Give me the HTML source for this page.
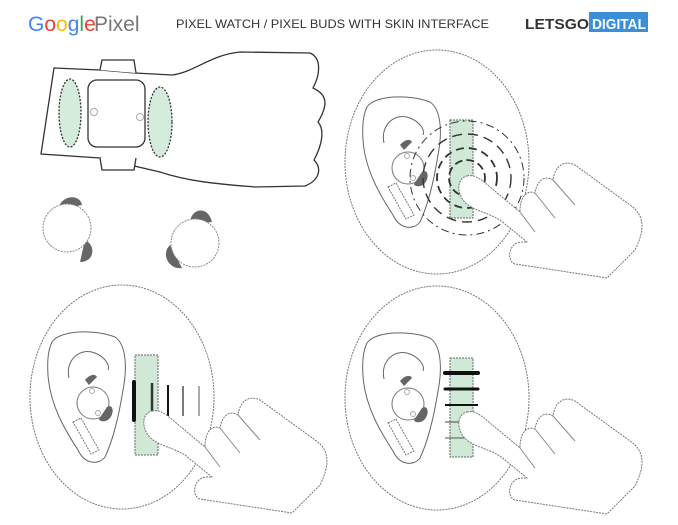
<!DOCTYPE html>
<html><head><meta charset="utf-8"><style>
html,body{margin:0;padding:0;background:#fff;width:678px;height:525px;overflow:hidden}
svg{display:block}
</style></head><body>
<svg width="678" height="525" viewBox="0 0 678 525" xmlns="http://www.w3.org/2000/svg">
<defs>
<g id="ear">
  <ellipse cx="437" cy="162" rx="92" ry="112" fill="none" stroke="#777" stroke-width="1" stroke-dasharray="2 1"/>
  <path d="M367,107 C375,95 410,94 430,102 C442,110 442,135 438,155 C434,180 428,205 420,222 C414,230 400,230 393,215 C380,195 365,170 363,140 C362,125 363,115 367,107 Z" fill="none" stroke="#666" stroke-width="1"/>
  <path d="M384,143 C380,125 395,112 410,118 C420,122 425,130 423,135" fill="none" stroke="#666" stroke-width="1"/>
  <path d="M400,145 C404,140 410,138 412,142 L404,150 Z" fill="#666"/>
  <circle cx="408" cy="168" r="16" fill="#fff" stroke="#777" stroke-width="1"/>
  <path d="M422,172 C428,168 430,178 424,184 C420,188 414,186 414,184 Z" fill="#666"/>
  <circle cx="407" cy="156" r="2.5" fill="none" stroke="#aaa"/>
  <circle cx="413" cy="178" r="2.5" fill="none" stroke="#aaa"/>
  <path d="M388,187 L396,183 L414,215 L406,219 Z" fill="#fff" stroke="#777" stroke-dasharray="2 1"/>
</g>
<g id="hand">
  <path d="M467,176 C475,174 482,180 490,187 L520,212 C520,195 528,190 535,193 C537,180 545,175 553,180 C555,165 565,160 575,165 L630,205 C645,215 645,230 635,250 L607,278 L515,264 C508,262 508,250 514,245 C520,240 526,243 527,242 L500,220 C487,212 470,210 463,200 C456,190 458,178 467,176 Z" fill="#fff" stroke="#777" stroke-width="1" stroke-dasharray="2 1"/>
  <path d="M520,212 L535,232 M535,193 L555,218 M553,180 L575,205" fill="none" stroke="#888" stroke-width="1"/>
</g>
</defs>

<!-- header -->
<text x="28" y="31" font-family="Liberation Sans, sans-serif" font-size="21"><tspan fill="#4285f4">G</tspan><tspan fill="#ea4335">o</tspan><tspan fill="#fbbc05">o</tspan><tspan fill="#4285f4">g</tspan><tspan fill="#34a853">l</tspan><tspan fill="#ea4335">e</tspan></text>
<text x="94" y="31" font-family="Liberation Sans, sans-serif" font-size="21" fill="#777">Pixel</text>
<text x="176" y="28" font-family="Liberation Sans, sans-serif" font-size="12" fill="#333" textLength="313" lengthAdjust="spacingAndGlyphs">PIXEL WATCH / PIXEL BUDS WITH SKIN INTERFACE</text>
<text x="525" y="29" font-family="Liberation Sans, sans-serif" font-size="15" font-weight="bold" fill="#333" textLength="64" lengthAdjust="spacingAndGlyphs">LETSGO</text>
<rect x="589" y="12" width="59" height="20" fill="#3b8fd6"/>
<text x="592" y="29" font-family="Liberation Sans, sans-serif" font-size="15" font-weight="bold" fill="#fff" textLength="54" lengthAdjust="spacingAndGlyphs">DIGITAL</text>

<!-- arm with watch -->
<path d="M54,68 L100,70 L135,73 L172,75 C195,72 210,55 240,52 L310,53 C322,58 320,75 313,88 C328,95 328,105 318,122 C325,130 322,145 314,160 C322,168 320,180 305,186 L255,187 C220,184 190,182 160,172 L100,158 L41,154 Z" fill="#fff" stroke="#333" stroke-width="1.3"/>
<path d="M100,70 L102,60 L134,60 L136,73 M100,158 L102,170 L134,170 L136,158" fill="#fff" stroke="#333" stroke-width="1.3"/>
<rect x="88" y="80" width="57" height="67" rx="9" fill="#fff" stroke="#333" stroke-width="1.3"/>
<circle cx="94" cy="112" r="3.5" fill="#fff" stroke="#aaa"/>
<circle cx="140" cy="117" r="3.5" fill="#fff" stroke="#aaa"/>
<ellipse cx="70" cy="113" rx="11" ry="34" fill="#d4ecdb" stroke="#333" stroke-width="1.3" stroke-dasharray="2 1.5"/>
<ellipse cx="160" cy="122" rx="12" ry="35" fill="#d4ecdb" stroke="#333" stroke-width="1.3" stroke-dasharray="2 1.5"/>

<!-- buds -->
<path d="M58,210 C60,195 80,193 82,205 Z" fill="#666"/>
<path d="M85,240 C96,245 95,262 80,262 Z" fill="#666"/>
<circle cx="67" cy="228" r="24" fill="#fff" stroke="#888" stroke-dasharray="2 1"/>
<path d="M190,224 C190,208 208,205 212,222 Z" fill="#666"/>
<path d="M170,245 C160,255 170,270 182,268 Z" fill="#666"/>
<circle cx="195" cy="243" r="24" fill="#fff" stroke="#888" stroke-dasharray="2 1"/>

<!-- TR panel -->
<use href="#ear"/>
<rect x="450" y="120" width="23" height="98" fill="#cfe9d6" stroke="#666" stroke-dasharray="2 1"/>
<g fill="none" stroke="#333" stroke-width="1.8">
<circle cx="467" cy="178" r="18" stroke-dasharray="8 4"/>
<circle cx="467" cy="178" r="30" stroke-dasharray="8 5"/>
<circle cx="467" cy="178" r="44" stroke-dasharray="10 6" stroke-width="1.4"/>
<circle cx="467" cy="178" r="57" stroke-dasharray="8 4 2 4" stroke-width="1"/>
</g>
<use href="#hand"/>

<!-- BL panel -->
<g transform="translate(-315,235)"><use href="#ear"/></g>
<rect x="135" y="355" width="23" height="100" fill="#cfe9d6" stroke="#666" stroke-dasharray="2 1"/>
<line x1="134" y1="382" x2="134" y2="420" stroke="#111" stroke-width="4" stroke-linecap="round"/>
<line x1="152" y1="383" x2="152" y2="418" stroke="#333" stroke-width="2.5"/>
<line x1="168" y1="385" x2="168" y2="416" stroke="#111" stroke-width="2"/>
<line x1="183" y1="386" x2="183" y2="416" stroke="#333" stroke-width="1.3"/>
<line x1="199" y1="386" x2="199" y2="416" stroke="#555" stroke-width="1"/>
<g transform="translate(-315,235)"><use href="#hand"/></g>

<!-- BR panel -->
<g transform="translate(0,236)"><use href="#ear"/></g>
<rect x="450" y="358" width="23" height="99" fill="#cfe9d6" stroke="#666" stroke-dasharray="2 1"/>
<line x1="445" y1="373" x2="478" y2="373" stroke="#111" stroke-width="4" stroke-linecap="round"/>
<line x1="445" y1="389" x2="478" y2="389" stroke="#111" stroke-width="3" stroke-linecap="round"/>
<line x1="445" y1="405" x2="478" y2="405" stroke="#111" stroke-width="2"/>
<line x1="445" y1="422" x2="470" y2="422" stroke="#444" stroke-width="1"/>
<line x1="445" y1="438" x2="473" y2="438" stroke="#555" stroke-width="1"/>
<g transform="translate(0,236)"><use href="#hand"/></g>
</svg>
</body></html>
